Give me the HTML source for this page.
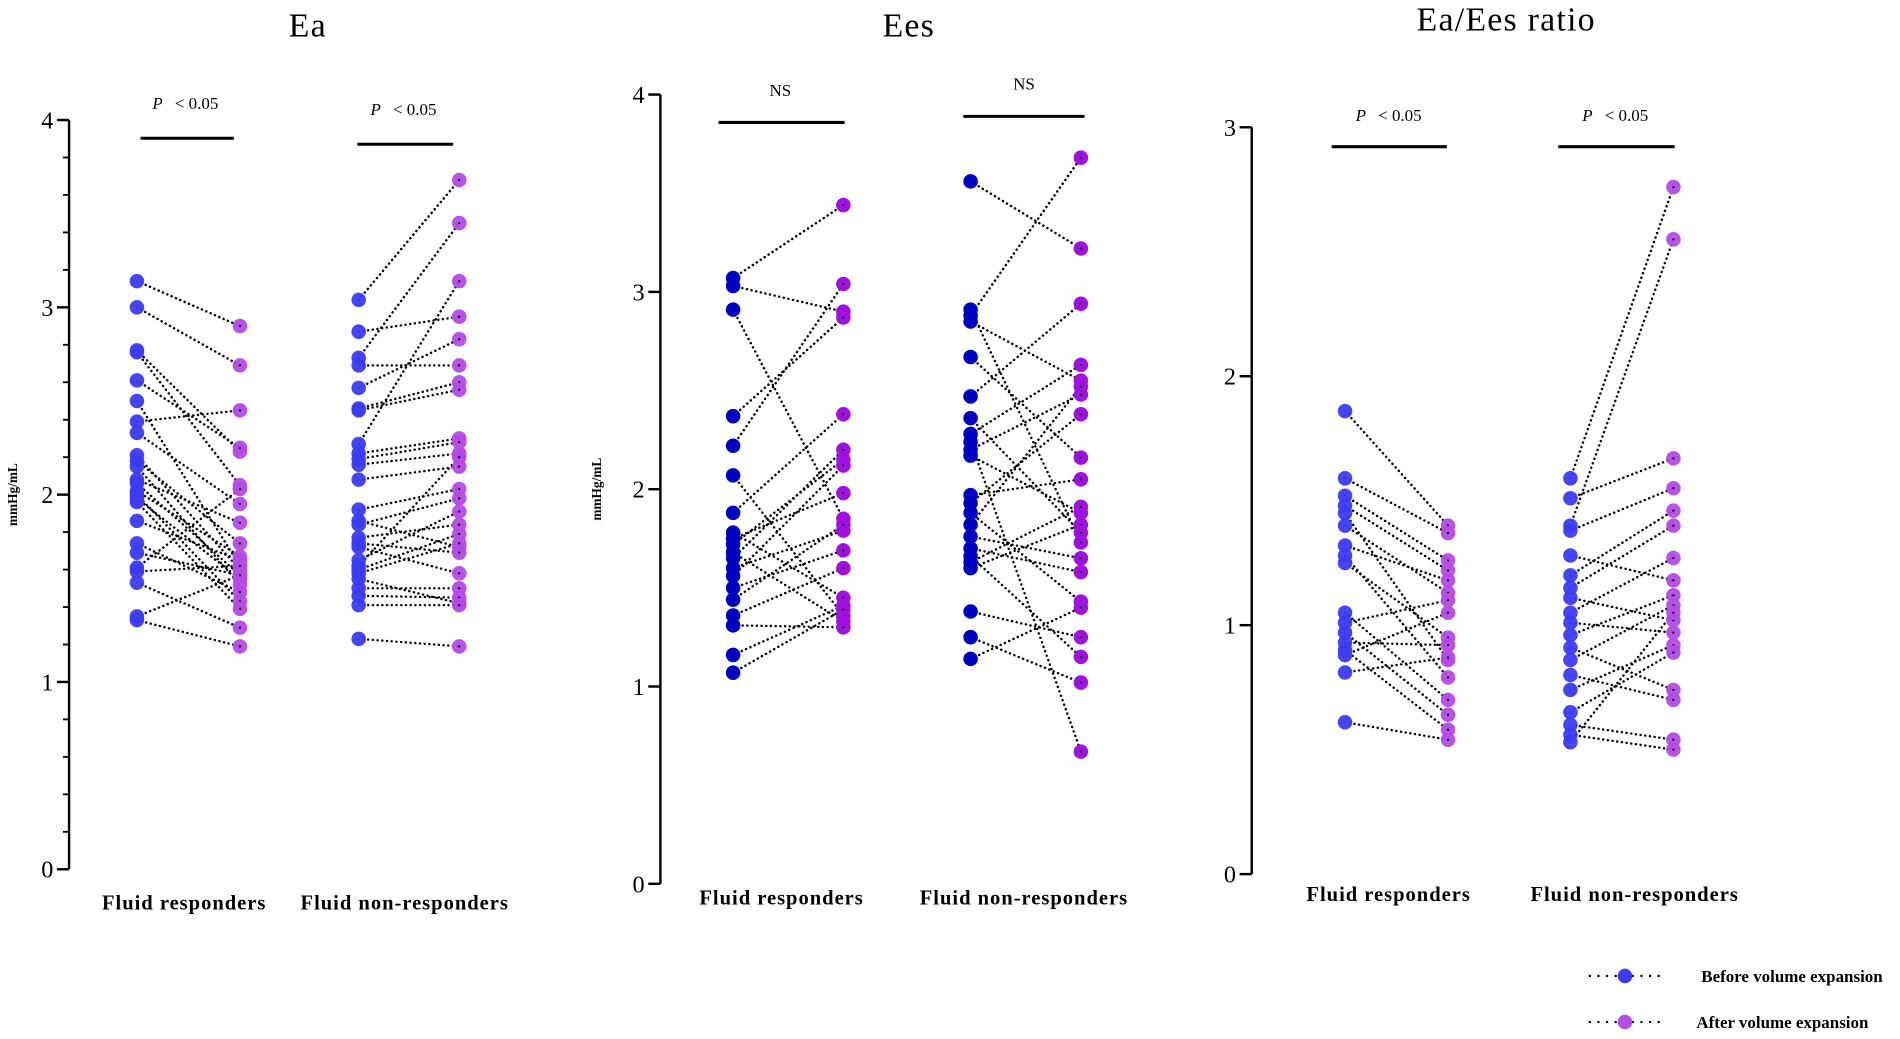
<!DOCTYPE html>
<html><head><meta charset="utf-8"><style>
html,body{margin:0;padding:0;background:#fff;}
svg{display:block;font-family:"Liberation Serif",serif;}
</style></head><body>
<svg id="chart" width="1900" height="1039" viewBox="0 0 1568 857" preserveAspectRatio="none" xmlns="http://www.w3.org/2000/svg"></svg>
<script>
// ---- data ----
const eaRespBefore=[3.14,3.0,2.77,2.76,2.61,2.5,2.39,2.33,2.21,2.18,2.15,2.08,2.06,2.02,2.0,1.98,1.96,1.86,1.74,1.69,1.61,1.59,1.53,1.35,1.33];
const eaRespAfter=[2.9,2.69,2.23,2.05,2.25,1.62,2.45,1.95,1.6,1.74,1.52,1.85,1.57,1.67,1.43,1.55,1.39,1.65,1.48,1.57,2.03,1.62,1.29,1.57,1.19];
const eaNonBefore=[3.04,2.87,2.73,2.69,2.57,2.46,2.45,2.27,2.22,2.19,2.16,2.08,1.92,1.86,1.84,1.77,1.74,1.72,1.65,1.62,1.6,1.58,1.55,1.5,1.46,1.41,1.23];
const eaNonAfter=[3.68,2.95,3.45,2.69,2.83,2.60,2.56,3.14,2.3,2.28,2.22,2.15,2.03,1.72,1.98,1.84,1.69,1.58,1.91,2.2,1.79,1.74,1.42,1.5,1.45,1.41,1.19];
const eesRespBefore=[3.07,3.03,2.91,2.37,2.22,2.07,1.88,1.78,1.75,1.72,1.68,1.65,1.6,1.56,1.5,1.44,1.36,1.31,1.16,1.07];
const eesRespAfter=[3.44,2.9,1.85,2.87,3.04,1.36,2.38,1.45,1.98,2.15,1.33,2.2,1.79,2.12,1.69,1.82,1.6,1.3,1.41,1.39];
const eesNonBefore=[3.56,2.91,2.88,2.85,2.67,2.47,2.36,2.28,2.24,2.2,2.17,1.97,1.93,1.88,1.82,1.76,1.7,1.66,1.63,1.6,1.38,1.25,1.14];
const eesNonAfter=[3.22,1.73,3.68,2.55,2.16,2.94,1.78,2.63,0.67,2.48,1.88,2.05,2.38,1.43,2.52,1.65,1.58,1.15,1.91,1.82,1.25,1.02,1.4];
const ratioRespBefore=[1.86,1.59,1.52,1.48,1.45,1.40,1.32,1.28,1.25,1.05,1.01,0.97,0.93,0.90,0.88,0.81,0.61];
const ratioRespAfter=[1.40,1.37,1.26,1.22,0.86,1.13,1.18,0.79,0.95,0.70,1.10,0.64,0.92,0.58,1.05,0.87,0.54];
const ratioNonBefore=[1.59,1.51,1.40,1.38,1.28,1.20,1.15,1.11,1.05,1.01,0.96,0.91,0.86,0.80,0.74,0.65,0.60,0.56,0.53];
const ratioNonAfter=[2.76,1.67,2.55,1.55,1.18,1.46,1.40,1.02,1.27,0.97,1.12,0.74,1.08,0.70,0.92,0.89,0.54,0.50,1.05];
const eaTicks=["0","1","2","3","4"];
const eesTicks=["0","1","2","3","4"];
const ratioTicks=["0","1","2","3"];
const categories=["Fluid responders","Fluid non-responders"];

const NS="http://www.w3.org/2000/svg";
const svg=document.getElementById('chart');
function mk(tag,attrs,parent){const e=document.createElementNS(NS,tag);for(const k in attrs)e.setAttribute(k,attrs[k]);(parent||svg).appendChild(e);return e;}

const panels=[
 {key:'ea',title:'Ea',tx:254,ty:30,ax:57,y0:717,yTop:99,max:4,ticks:eaTicks,minor:0.2,ylab:true,ylx:14,
  xs:[113,198,296,379],labY:750,labX:[152,334],
  groups:[[eaRespBefore,eaRespAfter],[eaNonBefore,eaNonAfter]],cb:'#3b3bf2',ca:'#b54ae6',op:0.95,
  bars:[[116,193,114,'P',153,90],[295,374,119,'P',333,95]]},
 {key:'ees',title:'Ees',tx:750,ty:30,ax:545,y0:729,yTop:78,max:4,ticks:eesTicks,minor:null,ylab:true,ylx:496,
  xs:[605,696,801,892],labY:746,labX:[645,845],
  groups:[[eesRespBefore,eesRespAfter],[eesNonBefore,eesNonAfter]],cb:'#0000c0',ca:'#a010e0',op:1,
  bars:[[593,697,101,'NS',644,79],[795,895,96,'NS',845,74]]},
 {key:'ratio',title:'Ea/Ees ratio',tx:1243,ty:25,ax:1033,y0:721,yTop:105,max:3,ticks:ratioTicks,minor:null,ylab:false,
  xs:[1110,1195,1296,1381],labY:743,labX:[1146,1349],
  groups:[[ratioRespBefore,ratioRespAfter],[ratioNonBefore,ratioNonAfter]],cb:'#3b3bf2',ca:'#b54ae6',op:0.95,
  bars:[[1099,1194,121,'P',1146,100],[1286,1382,121,'P',1333,100]]}
];

panels.forEach(p=>{
  const g=mk('g',{});  
  const y=v=>p.y0-(p.y0-p.yTop)*v/p.max;
  const t=mk('text',{x:p.tx,y:p.ty,'text-anchor':'middle','font-size':28,'letter-spacing':1},g); t.textContent=p.title;
   
  const ax=mk('line',{x1:p.ax,x2:p.ax,y1:y(p.max),y2:y(0),stroke:'#000','stroke-width':2},g);
   
  p.ticks.forEach((lab,i)=>{
    mk('line',{x1:p.ax-10,x2:p.ax,y1:y(i),y2:y(i),stroke:'#000','stroke-width':2},g);
    const tl=mk('text',{x:p.ax-13,y:y(i)+7,'text-anchor':'end','font-size':20},g); tl.textContent=lab;
     
  });
  if(p.minor){for(let v=p.minor;v<p.max-1e-6;v+=p.minor){if(Math.abs(v-Math.round(v))<1e-6)continue;mk('line',{x1:p.ax-5,x2:p.ax,y1:y(v),y2:y(v),stroke:'#000','stroke-width':1.5},g);}}
  if(p.ylab){const yl=mk('text',{x:p.ylx,y:(p.y0+p.yTop)/2,'text-anchor':'middle','font-size':11,'font-weight':'bold',transform:`rotate(-90 ${p.ylx} ${(p.y0+p.yTop)/2})`},g);yl.textContent='mmHg/mL';
     }
  categories.forEach((c,i)=>{const cl=mk('text',{x:p.labX[i],y:p.labY,'text-anchor':'middle','font-size':17,'font-weight':'bold','letter-spacing':0.8},g);cl.textContent=c;
     });
  p.bars.forEach(b=>{
    mk('line',{x1:b[0],x2:b[1],y1:b[2],y2:b[2],stroke:'#000','stroke-width':2.5},g);
    const st=mk('text',{x:b[4],y:b[5],'text-anchor':'middle','font-size':14},g);
     
    if(b[3]==='P'){st.innerHTML='<tspan font-style="italic">P</tspan><tspan dx="10">&lt; 0.05</tspan>';}else st.textContent='NS';
  });
  p.groups.forEach((grp,gi)=>{
    const xb=p.xs[gi*2],xa=p.xs[gi*2+1];
    grp[0].forEach((v,i)=>{const l=mk('line',{x1:xb,y1:y(v),x2:xa,y2:y(grp[1][i]),stroke:'#000','stroke-width':2,'stroke-dasharray':'0.1 3.8','stroke-linecap':'round'},g);
       });
    grp[0].forEach(v=>{const c=mk('circle',{cx:xb,cy:y(v),r:6,fill:p.cb,'fill-opacity':p.op},g);
       });
    grp[1].forEach(v=>{const c=mk('circle',{cx:xa,cy:y(v),r:6,fill:p.ca,'fill-opacity':p.op},g);
       
      mk('circle',{cx:xa,cy:y(v),r:0.9,fill:'#000'},g);});
  });
});
// legend
[['Before volume expansion','#3b3bf2',805,1404],['After volume expansion','#b54ae6',843,1400]].forEach(l=>{
  const g=mk('g',{});  
  mk('line',{x1:1312,x2:1372,y1:l[2],y2:l[2],stroke:'#000','stroke-width':2,'stroke-dasharray':'0.1 7','stroke-linecap':'round'},g);
  mk('circle',{cx:1341,cy:l[2],r:6,fill:l[1]},g);
  const t=mk('text',{x:l[3],y:l[2]+5,'font-size':14,'font-weight':'bold'},g); t.textContent=l[0];
});
</script>
</body></html>
